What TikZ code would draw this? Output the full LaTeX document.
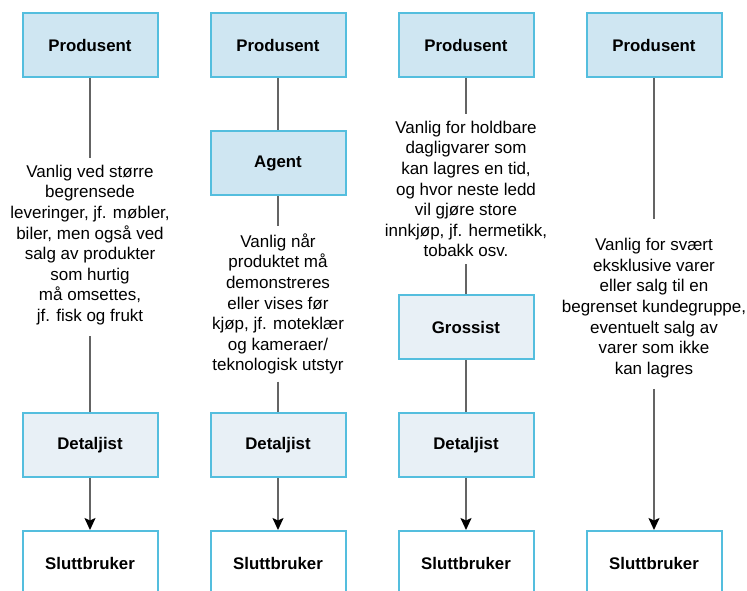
\documentclass[tikz,border=0pt]{standalone}
\usepackage{fontspec}
\setmainfont{Liberation Sans}
\usetikzlibrary{arrows.meta}
\definecolor{boxline}{RGB}{84,190,222}
\definecolor{fillA}{RGB}{207,230,242}
\definecolor{fillB}{RGB}{232,240,246}
\definecolor{linkgray}{RGB}{100,100,100}
\tikzset{
  chainbox/.style={draw=boxline, line width=2pt, minimum width=135pt, minimum height=64pt,
    inner sep=0pt, font=\fontsize{16.8}{20}\selectfont\bfseries},
  mainbox/.style={chainbox, fill=fillA},
  midbox/.style={chainbox, fill=fillB},
  endbox/.style={chainbox, fill=white},
  note/.style={align=center, inner sep=7pt, font=\fontsize{17}{20.6}\selectfont},
  link/.style={draw=linkgray, line width=1.7pt},
  flow/.style={link, -{Stealth[length=12pt,width=11pt,inset=2.5pt,fill=black,color=black]}},
}
\begin{document}
\begin{tikzpicture}[x=1pt,y=-1pt]
\useasboundingbox (0,0) rectangle (747,590);
\clip (0,0) rectangle (747,590);
\fill[white] (0,0) rectangle (747,590);

% Column 1: Produsent - Detaljist - Sluttbruker
\node[mainbox] (p1) at (90,45) {Produsent};
\node[note] (t1) at (90,245) {Vanlig ved større\\begrensede\\leveringer, jf. møbler,\\biler, men også ved\\salg av produkter\\som hurtig\\må omsettes,\\jf. fisk og frukt};
\node[midbox] (d1) at (90,445) {Detaljist};
\node[endbox] (s1) at (90,563) {Sluttbruker};
\draw[link] (p1) -- (t1);
\draw[link, shorten <=4pt] (t1) -- (d1);
\draw[flow] (d1) -- (s1);

% Column 2: Produsent - Agent - Detaljist - Sluttbruker
\node[mainbox] (p2) at (278,45) {Produsent};
\node[mainbox] (a2) at (278,163) {Agent};
\node[note] (t2) at (278,304) {Vanlig når\\produktet må\\demonstreres\\eller vises før\\kjøp, jf. moteklær\\og kameraer/\\teknologisk utstyr};
\node[midbox] (d2) at (278,445) {Detaljist};
\node[endbox] (s2) at (278,563) {Sluttbruker};
\draw[link] (p2) -- (a2);
\draw[link] (a2) -- (t2);
\draw[link] (t2) -- (d2);
\draw[flow] (d2) -- (s2);

% Column 3: Produsent - Grossist - Detaljist - Sluttbruker
\node[mainbox] (p3) at (466,45) {Produsent};
\node[note] (t3) at (466,189) {Vanlig for holdbare\\dagligvarer som\\kan lagres en tid,\\og hvor neste ledd\\vil gjøre store\\innkjøp, jf. hermetikk,\\tobakk osv.};
\node[midbox] (g3) at (466,327) {Grossist};
\node[midbox] (d3) at (466,445) {Detaljist};
\node[endbox] (s3) at (466,563) {Sluttbruker};
\draw[link] (p3) -- (t3);
\draw[link] (t3) -- (g3);
\draw[link] (g3) -- (d3);
\draw[flow] (d3) -- (s3);

% Column 4: Produsent - Sluttbruker
\node[mainbox] (p4) at (654,45) {Produsent};
\node[note] (t4) at (654,308) {Vanlig for svært\\eksklusive varer\\eller salg til en\\begrenset kundegruppe,\\eventuelt salg av\\varer som ikke\\kan lagres};
\node[endbox] (s4) at (654,563) {Sluttbruker};
\draw[link, shorten >=12pt] (p4) -- (t4);
\draw[flow, shorten <=4pt] (t4) -- (s4);
\end{tikzpicture}
\end{document}
